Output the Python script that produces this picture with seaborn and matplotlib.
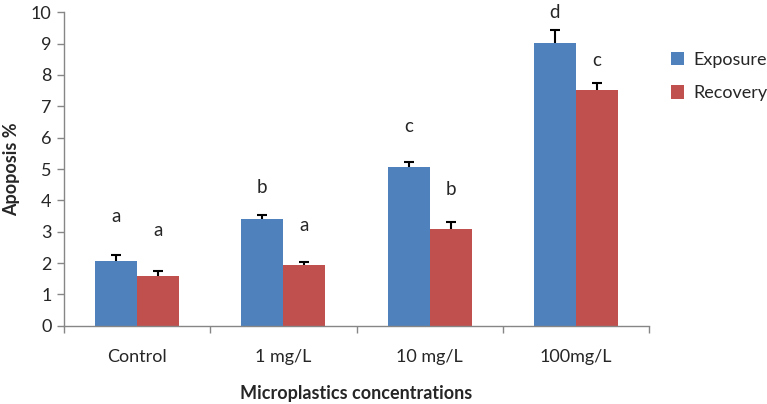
import numpy as np
import pandas as pd
import seaborn as sns
import matplotlib.pyplot as plt

# Datos
concentraciones = ["Control", "1 mg/L", "10 mg/L", "100mg/L"]
exposure = [2.07, 3.40, 5.05, 9.01]
recovery = [1.60, 1.93, 3.09, 7.53]
exposure_err = [0.19, 0.13, 0.18, 0.42]
recovery_err = [0.14, 0.09, 0.23, 0.22]
# letras de significancia y la altura (en %) a la que aparecen
exposure_letras = ["a", "b", "c", "d"]
recovery_letras = ["a", "a", "b", "c"]
exposure_letra_y = [3.49, 4.42, 6.35, 10.0]
recovery_letra_y = [3.04, 3.19, 4.36, 8.45]

df = pd.DataFrame({
    "Concentracion": concentraciones * 2,
    "Apoptosis": exposure + recovery,
    "Grupo": ["Exposure"] * 4 + ["Recovery"] * 4,
})

sns.set_theme(style="white")
plt.rcParams["font.family"] = ["Lato", "DejaVu Sans"]

fig = plt.figure(figsize=(7.67, 4.04), dpi=100)
ax = fig.add_axes([64 / 767, 1 - 325.7 / 404, (649 - 64) / 767, (325.7 - 12.3) / 404])

sns.barplot(data=df, x="Concentracion", y="Apoptosis", hue="Grupo",
            palette=["#4F81BD", "#C0504D"], width=0.575, saturation=1,
            errorbar=None, linewidth=0, ax=ax)

# Barras de error (solo hacia arriba) y letras
n = len(concentraciones)
patches = [p for p in ax.patches if p.get_height() > 0][:2 * n]
valores = exposure + recovery
errores = exposure_err + recovery_err
letras = exposure_letras + recovery_letras
letras_y = exposure_letra_y + recovery_letra_y
for p, v, e, l, ly in zip(patches, valores, errores, letras, letras_y):
    xc = p.get_x() + p.get_width() / 2
    _, caps, _ = ax.errorbar(xc, v, yerr=[[0], [e]], fmt="none", ecolor="black",
                             elinewidth=1.5, capsize=3.7, capthick=1.5)
    caps[0].set_visible(False)  # sin tapa inferior
    ax.text(xc, ly, l, ha="center", va="center", fontsize=13.5, clip_on=False)

ax.set_ylim(0, 10)
ax.set_xlim(-0.5, n - 0.5)
ax.set_yticks(range(0, 11))
ax.tick_params(axis="y", labelsize=13, length=5, width=1, color="#868686",
               direction="out", left=True, pad=4)
ax.tick_params(axis="x", which="major", labelsize=13, length=0, pad=17)
ax.set_xticks(np.arange(-0.5, n, 1), minor=True)
ax.tick_params(axis="x", which="minor", length=5, width=1, color="#868686",
               direction="out", bottom=True)

for s in ["top", "right"]:
    ax.spines[s].set_visible(False)
for s in ["left", "bottom"]:
    ax.spines[s].set_color("#868686")
    ax.spines[s].set_linewidth(1)

ax.set_xlabel("Microplastics concentrations", fontsize=13, fontweight="bold", labelpad=14)
ax.set_ylabel("Apoposis %", fontsize=13, fontweight="bold", labelpad=8)

ax.legend(loc="upper left", bbox_to_anchor=(1.009, 0.925), frameon=False,
          fontsize=13, handlelength=0.75, handleheight=0.75, handletextpad=0.5,
          labelspacing=0.95)

plt.savefig("out.png", dpi=100)
plt.close()
